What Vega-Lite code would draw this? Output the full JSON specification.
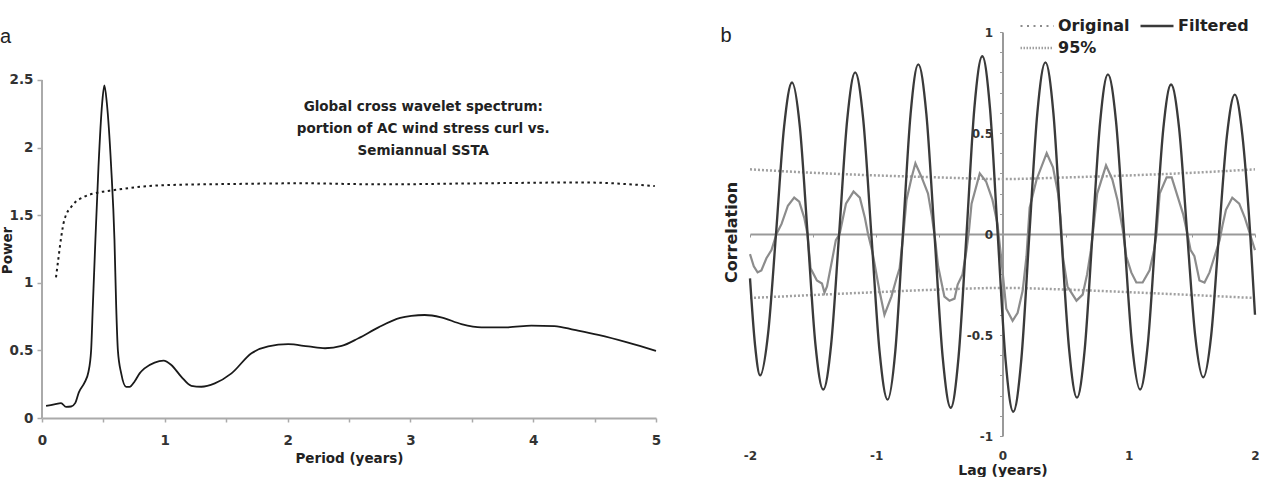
{
  "$schema": "https://vega.github.io/schema/vega-lite/v6.json",
  "background": "white",
  "padding": {"left": 0, "top": 17, "right": 0, "bottom": 0},
  "spacing": 59,
  "resolve": {"legend": {"color": "independent", "strokeWidth": "independent"}},
  "config": {
    "view": {"stroke": null},
    "font": "DejaVu Sans",
    "axis": {"labelFont": "DejaVu Sans", "labelFontWeight": "bold", "titleFont": "DejaVu Sans", "titleFontWeight": "bold", "grid": false, "labelFlush": false, "labelOverlap": false, "labelColor": "#333333", "titleColor": "#222222"},
    "title": {"font": "Liberation Sans", "fontSize": 20, "fontWeight": "normal", "anchor": "start", "frame": "bounds", "color": "#222222"}
  },
  "hconcat": [
    {
      "title": {"text": "a", "dy": 19},
      "width": 614,
      "height": 386,
      "layer": [
        {
          "data": {"values": [
            {"period": 0.033, "power": 0.089},
            {"period": 0.10, "power": 0.10},
            {"period": 0.155, "power": 0.11},
            {"period": 0.196, "power": 0.082},
            {"period": 0.237, "power": 0.085},
            {"period": 0.27, "power": 0.11},
            {"period": 0.30, "power": 0.19},
            {"period": 0.345, "power": 0.26},
            {"period": 0.378, "power": 0.34},
            {"period": 0.40, "power": 0.50},
            {"period": 0.414, "power": 0.83},
            {"period": 0.435, "power": 1.32},
            {"period": 0.46, "power": 1.86},
            {"period": 0.49, "power": 2.33},
            {"period": 0.508, "power": 2.46},
            {"period": 0.528, "power": 2.33},
            {"period": 0.563, "power": 1.86},
            {"period": 0.59, "power": 1.32},
            {"period": 0.604, "power": 0.83},
            {"period": 0.618, "power": 0.50},
            {"period": 0.645, "power": 0.33},
            {"period": 0.686, "power": 0.23},
            {"period": 0.713, "power": 0.23},
            {"period": 0.754, "power": 0.27},
            {"period": 0.795, "power": 0.33},
            {"period": 0.835, "power": 0.367},
            {"period": 0.917, "power": 0.41},
            {"period": 0.99, "power": 0.424},
            {"period": 1.053, "power": 0.392},
            {"period": 1.135, "power": 0.305},
            {"period": 1.216, "power": 0.238},
            {"period": 1.298, "power": 0.231},
            {"period": 1.407, "power": 0.256},
            {"period": 1.543, "power": 0.33},
            {"period": 1.706, "power": 0.479},
            {"period": 1.842, "power": 0.529},
            {"period": 2.005, "power": 0.546},
            {"period": 2.17, "power": 0.529},
            {"period": 2.305, "power": 0.516},
            {"period": 2.44, "power": 0.533},
            {"period": 2.577, "power": 0.59},
            {"period": 2.74, "power": 0.67},
            {"period": 2.917, "power": 0.74},
            {"period": 3.007, "power": 0.755},
            {"period": 3.116, "power": 0.762},
            {"period": 3.25, "power": 0.745},
            {"period": 3.415, "power": 0.695},
            {"period": 3.578, "power": 0.671},
            {"period": 3.795, "power": 0.671},
            {"period": 3.985, "power": 0.683},
            {"period": 4.173, "power": 0.68},
            {"period": 4.336, "power": 0.651},
            {"period": 4.53, "power": 0.614},
            {"period": 4.773, "power": 0.557},
            {"period": 5.0, "power": 0.496}
          ]},
          "mark": {"type": "line", "color": "#1a1a1a", "strokeWidth": 1.8, "interpolate": "monotone"},
          "encoding": {
            "x": {"field": "period", "type": "quantitative",
              "scale": {"domain": [0, 5], "nice": false, "zero": false},
              "axis": {"values": [0, 0.25, 0.5, 0.75, 1, 1.25, 1.5, 1.75, 2, 2.25, 2.5, 2.75, 3, 3.25, 3.5, 3.75, 4, 4.25, 4.5, 4.75, 5],
                "labelExpr": "datum.value % 1 === 0 ? '' + datum.value : ''",
                "title": "Period (years)", "domainColor": "#aaaaaa", "domainWidth": 2, "tickColor": "#aaaaaa", "tickWidth": 1.5, "tickSize": 4,
                "labelPadding": 11, "labelFontSize": 13.5, "titleFontSize": 13.5, "titlePadding": 5}},
            "y": {"field": "power", "type": "quantitative",
              "scale": {"domain": [0, 2.855], "nice": false},
              "axis": {"values": [0, 0.5, 1, 1.5, 2, 2.5], "labelExpr": "'' + datum.value", "domain": false,
                "tickColor": "#aaaaaa", "tickWidth": 1.5, "tickSize": 5, "labelPadding": 4, "labelFontSize": 13.5,
                "title": "Power", "titleFontSize": 13.5, "titleX": -28, "titleY": 218, "titleAngle": -90, "titleAlign": "center", "titleBaseline": "bottom"}}
          }
        },
        {
          "data": {"values": [
            {"period": 0.114, "power": 1.04},
            {"period": 0.135, "power": 1.19},
            {"period": 0.155, "power": 1.33},
            {"period": 0.182, "power": 1.465},
            {"period": 0.25, "power": 1.575},
            {"period": 0.346, "power": 1.637},
            {"period": 0.454, "power": 1.667},
            {"period": 0.59, "power": 1.686},
            {"period": 0.754, "power": 1.706},
            {"period": 1.026, "power": 1.723},
            {"period": 1.57, "power": 1.731},
            {"period": 2.114, "power": 1.736},
            {"period": 2.763, "power": 1.728},
            {"period": 3.5, "power": 1.735},
            {"period": 4.39, "power": 1.742},
            {"period": 4.99, "power": 1.716}
          ]},
          "mark": {"type": "line", "color": "#1a1a1a", "strokeWidth": 2, "strokeDash": [2.5, 3.5], "interpolate": "monotone"},
          "encoding": {
            "x": {"field": "period", "type": "quantitative"},
            "y": {"field": "power", "type": "quantitative"}
          }
        },
        {
          "data": {"values": [{"axisline": "y"}]},
          "mark": {"type": "rule", "color": "#aaaaaa", "strokeWidth": 2},
          "encoding": {"x": {"datum": 0, "type": "quantitative"}, "y": {"datum": 0, "type": "quantitative"}, "y2": {"datum": 2.5}}
        },
        {
          "data": {"values": [{"label": "Global cross wavelet spectrum:\nportion of AC wind stress curl vs.\nSemiannual SSTA"}]},
          "mark": {"type": "text", "lineBreak": "\n", "font": "DejaVu Sans", "fontWeight": "bold", "fontSize": 13.5, "lineHeight": 22, "align": "center", "baseline": "top", "fill": "#222222"},
          "encoding": {"x": {"datum": 3.105, "type": "quantitative"}, "y": {"datum": 2.352, "type": "quantitative"}, "text": {"field": "label", "type": "nominal"}}
        }
      ]
    },
    {
      "title": {"text": "b", "dy": 33, "dx": -3},
      "width": 505,
      "height": 404,
      "data": {"values": [
        {"series": "95%", "part": "upper", "lag": -2, "r": 0.32},
        {"series": "95%", "part": "upper", "lag": -1.5, "r": 0.303},
        {"series": "95%", "part": "upper", "lag": -1, "r": 0.29},
        {"series": "95%", "part": "upper", "lag": -0.5, "r": 0.28},
        {"series": "95%", "part": "upper", "lag": 0, "r": 0.272},
        {"series": "95%", "part": "upper", "lag": 0.5, "r": 0.28},
        {"series": "95%", "part": "upper", "lag": 1, "r": 0.29},
        {"series": "95%", "part": "upper", "lag": 1.5, "r": 0.303},
        {"series": "95%", "part": "upper", "lag": 2, "r": 0.32},
        {"series": "95%", "part": "lower", "lag": -2, "r": -0.317},
        {"series": "95%", "part": "lower", "lag": -1.5, "r": -0.302},
        {"series": "95%", "part": "lower", "lag": -1, "r": -0.288},
        {"series": "95%", "part": "lower", "lag": -0.5, "r": -0.275},
        {"series": "95%", "part": "lower", "lag": 0, "r": -0.267},
        {"series": "95%", "part": "lower", "lag": 0.5, "r": -0.275},
        {"series": "95%", "part": "lower", "lag": 1, "r": -0.288},
        {"series": "95%", "part": "lower", "lag": 1.5, "r": -0.302},
        {"series": "95%", "part": "lower", "lag": 2, "r": -0.317},
        {"series": "Original", "part": "o", "lag": -2.0, "r": -0.10},
        {"series": "Original", "part": "o", "lag": -1.97, "r": -0.16},
        {"series": "Original", "part": "o", "lag": -1.94, "r": -0.19},
        {"series": "Original", "part": "o", "lag": -1.91, "r": -0.18},
        {"series": "Original", "part": "o", "lag": -1.87, "r": -0.12},
        {"series": "Original", "part": "o", "lag": -1.83, "r": -0.08},
        {"series": "Original", "part": "o", "lag": -1.79, "r": 0.0},
        {"series": "Original", "part": "o", "lag": -1.75, "r": 0.05},
        {"series": "Original", "part": "o", "lag": -1.70, "r": 0.14},
        {"series": "Original", "part": "o", "lag": -1.65, "r": 0.18},
        {"series": "Original", "part": "o", "lag": -1.61, "r": 0.16},
        {"series": "Original", "part": "o", "lag": -1.57, "r": 0.08},
        {"series": "Original", "part": "o", "lag": -1.545, "r": 0.0},
        {"series": "Original", "part": "o", "lag": -1.52, "r": -0.17},
        {"series": "Original", "part": "o", "lag": -1.47, "r": -0.23},
        {"series": "Original", "part": "o", "lag": -1.43, "r": -0.245},
        {"series": "Original", "part": "o", "lag": -1.41, "r": -0.29},
        {"series": "Original", "part": "o", "lag": -1.39, "r": -0.26},
        {"series": "Original", "part": "o", "lag": -1.35, "r": -0.13},
        {"series": "Original", "part": "o", "lag": -1.32, "r": -0.03},
        {"series": "Original", "part": "o", "lag": -1.29, "r": 0.0},
        {"series": "Original", "part": "o", "lag": -1.24, "r": 0.15},
        {"series": "Original", "part": "o", "lag": -1.18, "r": 0.21},
        {"series": "Original", "part": "o", "lag": -1.13, "r": 0.18},
        {"series": "Original", "part": "o", "lag": -1.09, "r": 0.08},
        {"series": "Original", "part": "o", "lag": -1.065, "r": 0.0},
        {"series": "Original", "part": "o", "lag": -1.03, "r": -0.09},
        {"series": "Original", "part": "o", "lag": -0.975, "r": -0.28},
        {"series": "Original", "part": "o", "lag": -0.935, "r": -0.40},
        {"series": "Original", "part": "o", "lag": -0.88, "r": -0.31},
        {"series": "Original", "part": "o", "lag": -0.84, "r": -0.22},
        {"series": "Original", "part": "o", "lag": -0.815, "r": -0.17},
        {"series": "Original", "part": "o", "lag": -0.785, "r": 0.0},
        {"series": "Original", "part": "o", "lag": -0.76, "r": 0.17},
        {"series": "Original", "part": "o", "lag": -0.72, "r": 0.28},
        {"series": "Original", "part": "o", "lag": -0.69, "r": 0.35},
        {"series": "Original", "part": "o", "lag": -0.64, "r": 0.28},
        {"series": "Original", "part": "o", "lag": -0.59, "r": 0.20},
        {"series": "Original", "part": "o", "lag": -0.56, "r": 0.09},
        {"series": "Original", "part": "o", "lag": -0.535, "r": -0.02},
        {"series": "Original", "part": "o", "lag": -0.51, "r": -0.16},
        {"series": "Original", "part": "o", "lag": -0.46, "r": -0.31},
        {"series": "Original", "part": "o", "lag": -0.42, "r": -0.33},
        {"series": "Original", "part": "o", "lag": -0.38, "r": -0.32},
        {"series": "Original", "part": "o", "lag": -0.355, "r": -0.25},
        {"series": "Original", "part": "o", "lag": -0.317, "r": -0.20},
        {"series": "Original", "part": "o", "lag": -0.285, "r": -0.08},
        {"series": "Original", "part": "o", "lag": -0.265, "r": 0.02},
        {"series": "Original", "part": "o", "lag": -0.245, "r": 0.15},
        {"series": "Original", "part": "o", "lag": -0.18, "r": 0.30},
        {"series": "Original", "part": "o", "lag": -0.13, "r": 0.26},
        {"series": "Original", "part": "o", "lag": -0.08, "r": 0.17},
        {"series": "Original", "part": "o", "lag": -0.04, "r": 0.05},
        {"series": "Original", "part": "o", "lag": -0.01, "r": -0.12},
        {"series": "Original", "part": "o", "lag": 0.03, "r": -0.37},
        {"series": "Original", "part": "o", "lag": 0.08, "r": -0.43},
        {"series": "Original", "part": "o", "lag": 0.12, "r": -0.39},
        {"series": "Original", "part": "o", "lag": 0.16, "r": -0.28},
        {"series": "Original", "part": "o", "lag": 0.19, "r": -0.11},
        {"series": "Original", "part": "o", "lag": 0.215, "r": 0.13},
        {"series": "Original", "part": "o", "lag": 0.27, "r": 0.27},
        {"series": "Original", "part": "o", "lag": 0.35, "r": 0.40},
        {"series": "Original", "part": "o", "lag": 0.40, "r": 0.33},
        {"series": "Original", "part": "o", "lag": 0.44, "r": 0.20},
        {"series": "Original", "part": "o", "lag": 0.46, "r": 0.08},
        {"series": "Original", "part": "o", "lag": 0.48, "r": -0.12},
        {"series": "Original", "part": "o", "lag": 0.515, "r": -0.26},
        {"series": "Original", "part": "o", "lag": 0.586, "r": -0.33},
        {"series": "Original", "part": "o", "lag": 0.635, "r": -0.30},
        {"series": "Original", "part": "o", "lag": 0.67, "r": -0.20},
        {"series": "Original", "part": "o", "lag": 0.70, "r": -0.08},
        {"series": "Original", "part": "o", "lag": 0.715, "r": 0.0},
        {"series": "Original", "part": "o", "lag": 0.75, "r": 0.20},
        {"series": "Original", "part": "o", "lag": 0.82, "r": 0.34},
        {"series": "Original", "part": "o", "lag": 0.87, "r": 0.27},
        {"series": "Original", "part": "o", "lag": 0.91, "r": 0.17},
        {"series": "Original", "part": "o", "lag": 0.95, "r": 0.03},
        {"series": "Original", "part": "o", "lag": 0.98, "r": -0.11},
        {"series": "Original", "part": "o", "lag": 1.02, "r": -0.19},
        {"series": "Original", "part": "o", "lag": 1.06, "r": -0.24},
        {"series": "Original", "part": "o", "lag": 1.11, "r": -0.24},
        {"series": "Original", "part": "o", "lag": 1.165, "r": -0.18},
        {"series": "Original", "part": "o", "lag": 1.20, "r": -0.08},
        {"series": "Original", "part": "o", "lag": 1.22, "r": 0.0},
        {"series": "Original", "part": "o", "lag": 1.245, "r": 0.20},
        {"series": "Original", "part": "o", "lag": 1.30, "r": 0.28},
        {"series": "Original", "part": "o", "lag": 1.34, "r": 0.28},
        {"series": "Original", "part": "o", "lag": 1.39, "r": 0.18},
        {"series": "Original", "part": "o", "lag": 1.43, "r": 0.10},
        {"series": "Original", "part": "o", "lag": 1.465, "r": 0.0},
        {"series": "Original", "part": "o", "lag": 1.49, "r": -0.08},
        {"series": "Original", "part": "o", "lag": 1.52, "r": -0.11},
        {"series": "Original", "part": "o", "lag": 1.56, "r": -0.23},
        {"series": "Original", "part": "o", "lag": 1.60, "r": -0.24},
        {"series": "Original", "part": "o", "lag": 1.64, "r": -0.19},
        {"series": "Original", "part": "o", "lag": 1.68, "r": -0.11},
        {"series": "Original", "part": "o", "lag": 1.72, "r": -0.03},
        {"series": "Original", "part": "o", "lag": 1.745, "r": 0.05},
        {"series": "Original", "part": "o", "lag": 1.77, "r": 0.12},
        {"series": "Original", "part": "o", "lag": 1.82, "r": 0.18},
        {"series": "Original", "part": "o", "lag": 1.875, "r": 0.15},
        {"series": "Original", "part": "o", "lag": 1.92, "r": 0.08},
        {"series": "Original", "part": "o", "lag": 1.96, "r": 0.0},
        {"series": "Original", "part": "o", "lag": 2.0, "r": -0.08},
        {"series": "Filtered", "part": "f", "lag": -2.0, "r": -0.22},
        {"series": "Filtered", "part": "f", "lag": -1.96, "r": -0.55},
        {"series": "Filtered", "part": "f", "lag": -1.92, "r": -0.70},
        {"series": "Filtered", "part": "f", "lag": -1.857, "r": -0.495},
        {"series": "Filtered", "part": "f", "lag": -1.794, "r": 0.0},
        {"series": "Filtered", "part": "f", "lag": -1.73, "r": 0.53},
        {"series": "Filtered", "part": "f", "lag": -1.667, "r": 0.75},
        {"series": "Filtered", "part": "f", "lag": -1.605, "r": 0.53},
        {"series": "Filtered", "part": "f", "lag": -1.544, "r": 0.0},
        {"series": "Filtered", "part": "f", "lag": -1.482, "r": -0.545},
        {"series": "Filtered", "part": "f", "lag": -1.42, "r": -0.77},
        {"series": "Filtered", "part": "f", "lag": -1.357, "r": -0.545},
        {"series": "Filtered", "part": "f", "lag": -1.294, "r": 0.0},
        {"series": "Filtered", "part": "f", "lag": -1.23, "r": 0.566},
        {"series": "Filtered", "part": "f", "lag": -1.167, "r": 0.80},
        {"series": "Filtered", "part": "f", "lag": -1.103, "r": 0.566},
        {"series": "Filtered", "part": "f", "lag": -1.039, "r": 0.0},
        {"series": "Filtered", "part": "f", "lag": -0.974, "r": -0.58},
        {"series": "Filtered", "part": "f", "lag": -0.91, "r": -0.82},
        {"series": "Filtered", "part": "f", "lag": -0.849, "r": -0.58},
        {"series": "Filtered", "part": "f", "lag": -0.789, "r": 0.0},
        {"series": "Filtered", "part": "f", "lag": -0.728, "r": 0.594},
        {"series": "Filtered", "part": "f", "lag": -0.667, "r": 0.84},
        {"series": "Filtered", "part": "f", "lag": -0.603, "r": 0.594},
        {"series": "Filtered", "part": "f", "lag": -0.539, "r": 0.0},
        {"series": "Filtered", "part": "f", "lag": -0.474, "r": -0.608},
        {"series": "Filtered", "part": "f", "lag": -0.41, "r": -0.86},
        {"series": "Filtered", "part": "f", "lag": -0.348, "r": -0.608},
        {"series": "Filtered", "part": "f", "lag": -0.285, "r": 0.0},
        {"series": "Filtered", "part": "f", "lag": -0.223, "r": 0.622},
        {"series": "Filtered", "part": "f", "lag": -0.16, "r": 0.88},
        {"series": "Filtered", "part": "f", "lag": -0.099, "r": 0.622},
        {"series": "Filtered", "part": "f", "lag": -0.038, "r": 0.0},
        {"series": "Filtered", "part": "f", "lag": 0.024, "r": -0.622},
        {"series": "Filtered", "part": "f", "lag": 0.085, "r": -0.88},
        {"series": "Filtered", "part": "f", "lag": 0.149, "r": -0.622},
        {"series": "Filtered", "part": "f", "lag": 0.213, "r": 0.0},
        {"series": "Filtered", "part": "f", "lag": 0.276, "r": 0.60},
        {"series": "Filtered", "part": "f", "lag": 0.34, "r": 0.85},
        {"series": "Filtered", "part": "f", "lag": 0.403, "r": 0.60},
        {"series": "Filtered", "part": "f", "lag": 0.465, "r": 0.0},
        {"series": "Filtered", "part": "f", "lag": 0.528, "r": -0.573},
        {"series": "Filtered", "part": "f", "lag": 0.59, "r": -0.81},
        {"series": "Filtered", "part": "f", "lag": 0.651, "r": -0.573},
        {"series": "Filtered", "part": "f", "lag": 0.713, "r": 0.0},
        {"series": "Filtered", "part": "f", "lag": 0.774, "r": 0.559},
        {"series": "Filtered", "part": "f", "lag": 0.835, "r": 0.79},
        {"series": "Filtered", "part": "f", "lag": 0.899, "r": 0.559},
        {"series": "Filtered", "part": "f", "lag": 0.963, "r": 0.0},
        {"series": "Filtered", "part": "f", "lag": 1.026, "r": -0.545},
        {"series": "Filtered", "part": "f", "lag": 1.09, "r": -0.77},
        {"series": "Filtered", "part": "f", "lag": 1.151, "r": -0.545},
        {"series": "Filtered", "part": "f", "lag": 1.213, "r": 0.0},
        {"series": "Filtered", "part": "f", "lag": 1.274, "r": 0.523},
        {"series": "Filtered", "part": "f", "lag": 1.335, "r": 0.74},
        {"series": "Filtered", "part": "f", "lag": 1.399, "r": 0.523},
        {"series": "Filtered", "part": "f", "lag": 1.463, "r": 0.0},
        {"series": "Filtered", "part": "f", "lag": 1.526, "r": -0.502},
        {"series": "Filtered", "part": "f", "lag": 1.59, "r": -0.71},
        {"series": "Filtered", "part": "f", "lag": 1.653, "r": -0.502},
        {"series": "Filtered", "part": "f", "lag": 1.715, "r": 0.0},
        {"series": "Filtered", "part": "f", "lag": 1.778, "r": 0.488},
        {"series": "Filtered", "part": "f", "lag": 1.84, "r": 0.69},
        {"series": "Filtered", "part": "f", "lag": 1.90, "r": 0.49},
        {"series": "Filtered", "part": "f", "lag": 1.96, "r": 0.02},
        {"series": "Filtered", "part": "f", "lag": 2.0, "r": -0.40}
      ]},
      "encoding": {
        "x": {"field": "lag", "type": "quantitative",
          "scale": {"domain": [-2, 2], "nice": false, "zero": false},
          "axis": {"values": [-2, -1.5, -1, -0.5, 0, 0.5, 1, 1.5, 2],
            "labelExpr": "datum.value % 1 === 0 ? '' + datum.value : ''",
            "offset": -202, "labelPadding": 213, "tickSize": 3, "domainColor": "#999999", "domainWidth": 2, "tickColor": "#999999",
            "labelFontSize": 12, "title": "Lag (years)", "titleFontSize": 14, "titleY": 229, "titleBaseline": "top"}},
        "y": {"field": "r", "type": "quantitative",
          "scale": {"domain": [-1, 1], "nice": false},
          "axis": {"values": [-1, -0.9, -0.8, -0.7, -0.6, -0.5, -0.4, -0.3, -0.2, -0.1, 0, 0.1, 0.2, 0.3, 0.4, 0.5, 0.6, 0.7, 0.8, 0.9, 1],
            "labelExpr": "abs(datum.value * 2 - round(datum.value * 2)) < 0.000001 ? '' + datum.value : ''",
            "offset": -252.5, "tickSize": 3, "labelPadding": 7, "domainColor": "#999999", "domainWidth": 2, "tickColor": "#999999",
            "labelFontSize": 12, "title": "Correlation", "titleFontSize": 16, "titleX": -271, "titleY": 200, "titleAngle": -90, "titleAlign": "center", "titleBaseline": "middle"}},
        "color": {"field": "series", "type": "nominal",
          "scale": {"domain": ["Original", "Filtered", "95%"], "range": ["#8c8c8c", "#3a3a3a", "#a0a0a0"]},
          "legend": {"title": null, "orient": "none", "legendX": 269, "legendY": -15, "columns": 2, "direction": "horizontal", "symbolType": "stroke", "symbolSize": 1089,
            "labelFont": "DejaVu Sans", "labelFontWeight": "bold", "labelFontSize": 16, "labelColor": "#222222", "labelOffset": 3,
            "columnPadding": 9, "rowPadding": 4, "clipHeight": 18,
            "encode": {"symbols": {"update": {
              "strokeDash": {"signal": "datum.value === 'Original' ? [2, 4.5] : datum.value === '95%' ? [1.5, 1.5] : [1, 0]"}}}}}},
        "strokeWidth": {"field": "series", "type": "nominal",
          "scale": {"domain": ["Original", "Filtered", "95%"], "range": [2.2, 2.5, 1.3]}},
        "detail": {"field": "part", "type": "nominal"}
      },
      "layer": [
        {"transform": [{"filter": "datum.series === '95%'"}],
         "mark": {"type": "line", "interpolate": "monotone", "strokeDash": [2, 2]}},
        {"transform": [{"filter": "datum.series === 'Original'"}],
         "mark": {"type": "line", "interpolate": "linear"}},
        {"transform": [{"filter": "datum.series === 'Filtered'"}],
         "mark": {"type": "line", "interpolate": "monotone"}}
      ]
    }
  ]
}
